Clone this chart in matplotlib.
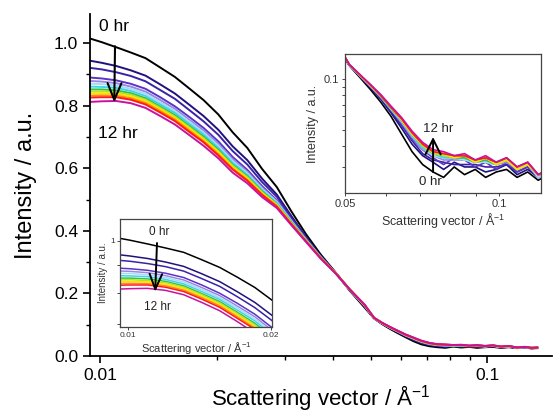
import numpy as np
import matplotlib
matplotlib.use('Agg')
import matplotlib.pyplot as plt
from matplotlib.ticker import LogLocator, NullFormatter, MultipleLocator, FormatStrFormatter

plt.rcParams['font.family'] = ['Liberation Sans', 'DejaVu Sans']
plt.rcParams['mathtext.default'] = 'regular'

# scattering vector (1/A)
q = [0.0094, 0.0101, 0.0110, 0.0120, 0.0131, 0.0143, 0.0156, 0.0170, 0.0185, 0.0202,
     0.0220, 0.0240, 0.0262, 0.0286, 0.0312, 0.0340, 0.0371, 0.0405, 0.0442, 0.0482,
     0.0510, 0.0535, 0.0560, 0.0587, 0.0615, 0.0645, 0.0676, 0.0709, 0.0743, 0.0779,
     0.0817, 0.0856, 0.0898, 0.0941, 0.0987, 0.1034, 0.1084, 0.1137, 0.1192, 0.1250,
     0.1300, 0.1346]

# intensity for each hour
i_0hr = [1.015, 1.003, 0.987, 0.970, 0.952, 0.922, 0.892, 0.855, 0.818, 0.772,
         0.715, 0.665, 0.598, 0.540, 0.462, 0.390, 0.325, 0.268, 0.208, 0.155,
         0.120, 0.102, 0.087, 0.073, 0.060, 0.047, 0.037, 0.031, 0.028, 0.026,
         0.030, 0.027, 0.029, 0.026, 0.028, 0.029, 0.026, 0.028, 0.025, 0.027,
         0.024, 0.025]
i_1hr = [0.944, 0.937, 0.927, 0.913, 0.896, 0.868, 0.839, 0.803, 0.767, 0.723,
         0.670, 0.626, 0.567, 0.516, 0.447, 0.381, 0.320, 0.267, 0.209, 0.158,
         0.121, 0.103, 0.089, 0.076, 0.063, 0.051, 0.041, 0.035, 0.032, 0.029,
         0.032, 0.030, 0.030, 0.028, 0.029, 0.031, 0.027, 0.029, 0.026, 0.028,
         0.025, 0.026]
i_2hr = [0.921, 0.916, 0.907, 0.895, 0.878, 0.850, 0.822, 0.786, 0.750, 0.707,
         0.655, 0.612, 0.556, 0.509, 0.442, 0.378, 0.319, 0.267, 0.210, 0.159,
         0.121, 0.104, 0.090, 0.077, 0.064, 0.053, 0.043, 0.036, 0.033, 0.032,
         0.031, 0.031, 0.031, 0.030, 0.030, 0.031, 0.028, 0.030, 0.026, 0.028,
         0.025, 0.026]
i_3hr = [0.890, 0.887, 0.881, 0.870, 0.854, 0.827, 0.798, 0.764, 0.729, 0.686,
         0.636, 0.595, 0.543, 0.498, 0.435, 0.374, 0.317, 0.266, 0.211, 0.161,
         0.121, 0.104, 0.091, 0.078, 0.066, 0.054, 0.044, 0.038, 0.034, 0.031,
         0.034, 0.033, 0.030, 0.032, 0.029, 0.032, 0.028, 0.030, 0.026, 0.028,
         0.025, 0.026]
i_4hr = [0.879, 0.877, 0.872, 0.861, 0.845, 0.818, 0.790, 0.755, 0.721, 0.678,
         0.629, 0.589, 0.538, 0.495, 0.432, 0.373, 0.316, 0.266, 0.211, 0.161,
         0.121, 0.105, 0.091, 0.078, 0.066, 0.055, 0.045, 0.038, 0.035, 0.033,
         0.033, 0.033, 0.032, 0.032, 0.031, 0.032, 0.029, 0.031, 0.026, 0.028,
         0.025, 0.026]
i_5hr = [0.870, 0.869, 0.864, 0.854, 0.838, 0.811, 0.783, 0.749, 0.714, 0.672,
         0.623, 0.584, 0.534, 0.492, 0.431, 0.372, 0.316, 0.266, 0.211, 0.162,
         0.121, 0.105, 0.091, 0.079, 0.066, 0.056, 0.046, 0.039, 0.035, 0.034,
         0.034, 0.033, 0.032, 0.032, 0.031, 0.033, 0.029, 0.031, 0.026, 0.028,
         0.025, 0.026]
i_6hr = [0.861, 0.860, 0.857, 0.847, 0.831, 0.804, 0.777, 0.742, 0.708, 0.665,
         0.617, 0.579, 0.530, 0.489, 0.429, 0.371, 0.315, 0.266, 0.211, 0.162,
         0.121, 0.105, 0.092, 0.079, 0.067, 0.056, 0.046, 0.039, 0.036, 0.034,
         0.034, 0.034, 0.032, 0.033, 0.031, 0.033, 0.029, 0.031, 0.027, 0.029,
         0.026, 0.026]
i_7hr = [0.852, 0.852, 0.849, 0.840, 0.824, 0.797, 0.770, 0.735, 0.701, 0.659,
         0.611, 0.574, 0.526, 0.485, 0.427, 0.370, 0.315, 0.266, 0.211, 0.162,
         0.122, 0.105, 0.092, 0.079, 0.067, 0.057, 0.047, 0.040, 0.036, 0.035,
         0.034, 0.034, 0.032, 0.033, 0.031, 0.033, 0.029, 0.031, 0.027, 0.029,
         0.026, 0.027]
i_8hr = [0.845, 0.846, 0.843, 0.835, 0.819, 0.793, 0.765, 0.731, 0.696, 0.655,
         0.608, 0.571, 0.523, 0.484, 0.425, 0.369, 0.314, 0.266, 0.211, 0.163,
         0.122, 0.105, 0.092, 0.080, 0.068, 0.057, 0.047, 0.040, 0.036, 0.035,
         0.034, 0.035, 0.032, 0.034, 0.031, 0.033, 0.029, 0.031, 0.027, 0.029,
         0.026, 0.027]
i_9hr = [0.839, 0.840, 0.838, 0.830, 0.815, 0.788, 0.761, 0.727, 0.692, 0.651,
         0.603, 0.567, 0.520, 0.482, 0.424, 0.368, 0.314, 0.266, 0.212, 0.163,
         0.122, 0.105, 0.092, 0.080, 0.068, 0.057, 0.047, 0.041, 0.037, 0.036,
         0.034, 0.035, 0.032, 0.034, 0.031, 0.033, 0.029, 0.031, 0.027, 0.029,
         0.026, 0.027]
i_10hr = [0.832, 0.833, 0.832, 0.824, 0.809, 0.783, 0.756, 0.721, 0.687, 0.645,
          0.599, 0.563, 0.517, 0.480, 0.423, 0.367, 0.313, 0.266, 0.212, 0.163,
          0.122, 0.106, 0.092, 0.080, 0.068, 0.058, 0.048, 0.041, 0.037, 0.036,
          0.035, 0.035, 0.033, 0.034, 0.032, 0.034, 0.030, 0.032, 0.027, 0.029,
          0.026, 0.027]
i_11hr = [0.826, 0.827, 0.827, 0.819, 0.804, 0.778, 0.751, 0.716, 0.683, 0.641,
          0.596, 0.560, 0.515, 0.477, 0.421, 0.367, 0.313, 0.266, 0.212, 0.164,
          0.122, 0.106, 0.093, 0.080, 0.068, 0.058, 0.048, 0.041, 0.037, 0.036,
          0.035, 0.035, 0.033, 0.034, 0.032, 0.034, 0.030, 0.032, 0.027, 0.029,
          0.026, 0.027]
i_12hr = [0.812, 0.814, 0.815, 0.808, 0.793, 0.767, 0.740, 0.706, 0.672, 0.632,
          0.586, 0.552, 0.508, 0.473, 0.418, 0.365, 0.312, 0.265, 0.212, 0.164,
          0.122, 0.106, 0.093, 0.081, 0.069, 0.059, 0.049, 0.042, 0.038, 0.037,
          0.035, 0.036, 0.033, 0.035, 0.032, 0.034, 0.030, 0.032, 0.027, 0.029,
          0.026, 0.027]

curves = [i_0hr, i_1hr, i_2hr, i_3hr, i_4hr, i_5hr, i_6hr,
          i_7hr, i_8hr, i_9hr, i_10hr, i_11hr, i_12hr]
colors = ['#000000', '#20127e', '#3a22a6', '#5b34c4', '#9a86e6', '#a8dcf4', '#3fd3ee',
          '#2fc24a', '#b4e22e', '#ffe100', '#ff8c00', '#ff1a1a', '#c8129e']
start_lbl = '0 hr'
end_lbl = '12 hr'
xlab = 'Scattering vector / Å$^{-1}$'
ylab = 'Intensity / a.u.'

fig = plt.figure(figsize=(5.54, 4.12), dpi=100)

# main plot
ax = fig.add_axes([0.1625, 0.136, 0.834, 0.830])
for y, c in zip(curves, colors):
    ax.plot(q, y, color=c, lw=1.4)
ax.set_xscale('log')
ax.set_xlim(0.00942, 0.147)
ax.set_ylim(0, 1.093)
ax.spines['top'].set_visible(False)
ax.spines['right'].set_visible(False)
for s in ['left', 'bottom']:
    ax.spines[s].set_linewidth(1.3)
ax.set_xticks([0.01, 0.1], ['0.01', '0.1'])
ax.xaxis.set_minor_locator(LogLocator(base=10, subs=np.arange(2, 10), numticks=20))
ax.xaxis.set_minor_formatter(NullFormatter())
ax.set_yticks(np.arange(0, 1.01, 0.2))
ax.yaxis.set_major_formatter(FormatStrFormatter('%.1f'))
ax.yaxis.set_minor_locator(MultipleLocator(0.1))
ax.tick_params(which='major', direction='out', length=5, width=1.2, labelsize=12.5)
ax.tick_params(which='minor', direction='out', length=3, width=1.0)
ax.set_xlabel(xlab, fontsize=16, labelpad=0)
ax.set_ylabel(ylab, fontsize=17, labelpad=12)
ax.text(0.00994, 1.054, start_lbl, fontsize=12.5, va='center', ha='left')
ax.text(0.00988, 0.712, end_lbl, fontsize=12.5, va='center', ha='left')
ax.annotate('', xy=(0.01088, 0.81), xytext=(0.01093, 0.99),
            arrowprops=dict(arrowstyle='->,head_length=1.2,head_width=0.5',
                            color='k', lw=1.5, shrinkA=0, shrinkB=0))

# inset: low q
ax1 = fig.add_axes([0.2166, 0.2063, 0.2744, 0.2621])
for y, c in zip(curves, colors):
    ax1.plot(q, y, color=c, lw=1.1)
ax1.set_xscale('log')
ax1.set_yscale('log')
ax1.set_xlim(0.00962, 0.0201)
ax1.set_ylim(0.690, 1.099)
ax1.set_xticks([0.01, 0.02], ['0.01', '0.02'])
ax1.xaxis.set_minor_locator(plt.NullLocator())
ax1.set_yticks([1], ['1'])
ax1.yaxis.set_minor_locator(LogLocator(base=10, subs=np.arange(2, 10), numticks=20))
ax1.yaxis.set_minor_formatter(NullFormatter())
for s in ax1.spines.values():
    s.set_color('#444444')
    s.set_linewidth(0.9)
ax1.tick_params(which='both', direction='out', length=2, width=0.7, labelsize=6, pad=1.5,
                color='#444444', labelcolor='#333333')
ax1.set_xlabel(xlab, fontsize=8, labelpad=1, color='#333333')
ax1.set_ylabel(ylab, fontsize=7, labelpad=2, color='#333333')
ax1.text(0.01162, 1.039, start_lbl, fontsize=8.5, ha='center', va='center', color='#222222')
ax1.text(0.01151, 0.753, end_lbl, fontsize=8.5, ha='center', va='center', color='#222222')
ax1.annotate('', xy=(0.01141, 0.803), xytext=(0.01151, 0.991),
             arrowprops=dict(arrowstyle='->,head_length=1.1,head_width=0.45',
                             color='k', lw=1.4, shrinkA=0, shrinkB=0))

# inset: high q
ax2 = fig.add_axes([0.6227, 0.5316, 0.3538, 0.3374])
for y, c in zip(curves, colors):
    ax2.plot(q, y, color=c, lw=1.2)
ax2.set_xscale('log')
ax2.set_yscale('log')
ax2.set_xlim(0.05, 0.1207)
ax2.set_ylim(0.0210, 0.141)
ax2.set_xticks([0.05, 0.1], ['0.05', '0.1'])
ax2.xaxis.set_minor_locator(LogLocator(base=10, subs=np.arange(2, 10), numticks=20))
ax2.xaxis.set_minor_formatter(NullFormatter())
ax2.set_yticks([0.1], ['0.1'])
ax2.yaxis.set_minor_locator(LogLocator(base=10, subs=np.arange(2, 10), numticks=20))
ax2.yaxis.set_minor_formatter(NullFormatter())
for s in ax2.spines.values():
    s.set_color('#444444')
    s.set_linewidth(0.9)
ax2.tick_params(which='both', direction='out', length=2.5, width=0.7, labelsize=8, pad=2,
                color='#444444', labelcolor='#333333')
ax2.set_xlabel(xlab, fontsize=9, labelpad=1, color='#333333')
ax2.set_ylabel(ylab, fontsize=9, labelpad=3, color='#333333')
ax2.text(0.076, 0.0504, end_lbl, fontsize=9.5, ha='center', va='center', color='#222222')
ax2.text(0.0733, 0.0244, start_lbl, fontsize=9.5, ha='center', va='center', color='#222222')
ax2.annotate('', xy=(0.0743, 0.0452), xytext=(0.0743, 0.0280),
             arrowprops=dict(arrowstyle='->,head_length=1.1,head_width=0.55',
                             color='k', lw=1.4, shrinkA=0, shrinkB=0))

fig.savefig('out.png', dpi=100)
